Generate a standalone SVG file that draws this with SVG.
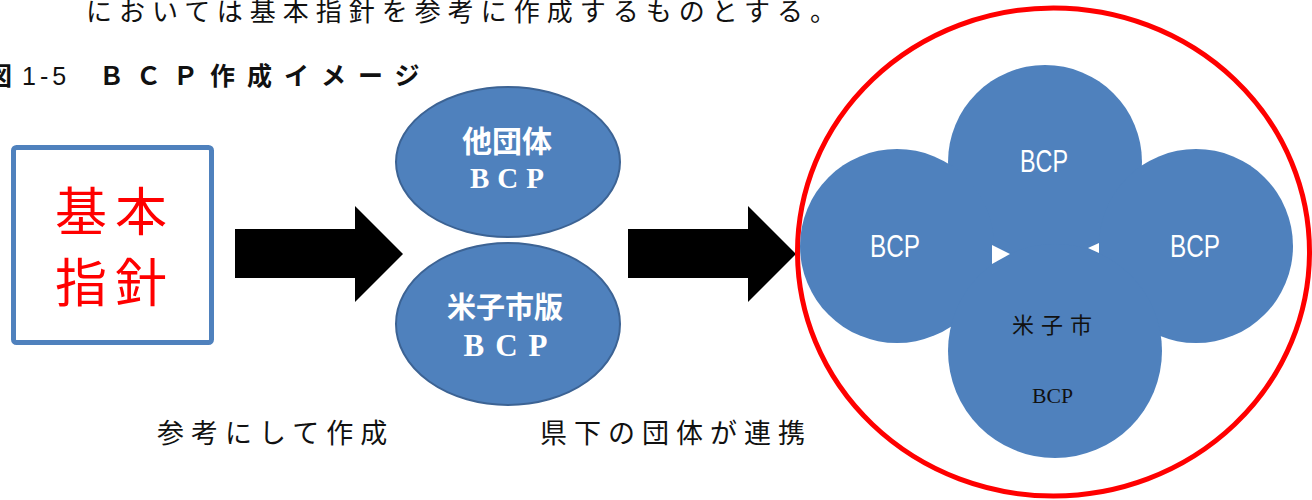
<svg xmlns="http://www.w3.org/2000/svg" width="1312" height="500" viewBox="0 0 1312 500">
<style>
.jp{font-family:"Noto Sans CJK JP","Noto Sans",sans-serif;}
.body{font-size:26px;fill:#111;letter-spacing:7px;}
.lbl{font-size:27px;fill:#111;letter-spacing:7px;}
.ell{fill:#4F81BD;stroke:#3C6394;stroke-width:2;}
.etx{fill:#FFFFFF;font-weight:bold;}
.clover{fill:#4F81BD;}
.wbcp{font-family:"Liberation Sans",sans-serif;font-size:31px;fill:#FFFFFF;}
.arrow{fill:#000000;}
</style>
<rect width="1312" height="500" fill="#FFFFFF"/>
<text class="jp body" x="86" y="21">においては基本指針を参考に作成するものとする。</text>
<g id="caption">
<text class="jp" x="-13" y="85" font-size="25" font-weight="bold" fill="#111">図</text>
<text x="22" y="85" font-family="Liberation Sans, sans-serif" font-size="25" letter-spacing="4" fill="#111">1-5</text>
<text class="jp" x="99" y="85" font-size="25" letter-spacing="12" font-weight="bold" fill="#111">ＢＣＰ作成イメージ</text>
</g>
<g id="node-kihon">
<rect x="13.5" y="147.5" width="198" height="195" rx="3" fill="#FFFFFF" stroke="#4F81BD" stroke-width="5"/>
<text class="jp" x="55" y="231" font-size="52" letter-spacing="8" fill="#FF0000">基本</text>
<text class="jp" x="55" y="302" font-size="52" letter-spacing="8" fill="#FF0000">指針</text>
</g>
<g id="connectors">
<polygon class="arrow" points="235,229 355,229 355,206 403,254 355,302 355,278 235,278"/>
<polygon class="arrow" points="628,229 748,229 748,206 796,254 748,302 748,278 628,278"/>
</g>
<g id="node-other-bcp">
<ellipse class="ell" cx="508" cy="162" rx="112" ry="75"/>
<text class="jp etx" x="507" y="152" font-size="30" text-anchor="middle">他団体</text>
<text class="etx" x="511" y="188" font-family="Liberation Serif, serif" font-size="29" letter-spacing="8" text-anchor="middle">BCP</text>
</g>
<g id="node-yonago-bcp">
<ellipse class="ell" cx="508" cy="324" rx="112" ry="81"/>
<text class="jp etx" x="505" y="318" font-size="29" text-anchor="middle">米子市版</text>
<text class="etx" x="511" y="356" font-family="Liberation Serif, serif" font-size="31" letter-spacing="11" text-anchor="middle">BCP</text>
</g>
<g id="labels">
<text class="jp lbl" x="157" y="443">参考にして作成</text>
<text class="jp lbl" x="540" y="443">県下の団体が連携</text>
</g>
<g id="node-cooperation">
<ellipse cx="1053.5" cy="252" rx="256" ry="244" fill="none" stroke="#FF0000" stroke-width="5"/>
<polygon class="clover" points="1045,162 1196,246 1055,351 897,246"/>
<circle class="clover" cx="1045" cy="162" r="97"/>
<circle class="clover" cx="897" cy="246" r="97"/>
<circle class="clover" cx="1196" cy="246" r="97"/>
<circle class="clover" cx="1055" cy="351" r="107"/>
<text class="wbcp" x="1020" y="172" textLength="48" lengthAdjust="spacingAndGlyphs">BCP</text>
<text class="wbcp" x="870" y="257" textLength="50" lengthAdjust="spacingAndGlyphs">BCP</text>
<text class="wbcp" x="1170" y="257" textLength="50" lengthAdjust="spacingAndGlyphs">BCP</text>
<polygon fill="#FFFFFF" points="992,245 1010,254 992,264"/>
<polygon fill="#FFFFFF" points="1099,243 1088,248 1099,253"/>
<text class="jp" x="1012" y="333" font-size="22" letter-spacing="7" fill="#111">米子市</text>
<text x="1032" y="403" font-family="Liberation Serif, serif" font-size="21" fill="#111" textLength="41" lengthAdjust="spacingAndGlyphs">BCP</text>
</g>
</svg>
